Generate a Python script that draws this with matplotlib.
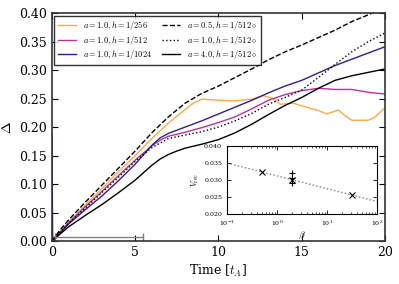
import matplotlib
matplotlib.use('Agg')
import matplotlib.pyplot as plt
import numpy as np

plt.rcParams['font.family'] = ['DejaVu Serif']
plt.rcParams['mathtext.fontset'] = 'cm'
plt.rcParams['xtick.direction'] = 'in'
plt.rcParams['ytick.direction'] = 'in'
plt.rcParams['xtick.top'] = True
plt.rcParams['ytick.right'] = True

# Main curves: Delta vs time
t_dash = [0, 0.5, 1, 2, 3, 4, 5, 6, 7, 8, 9, 10, 11, 12, 13, 14, 15, 16, 17, 18, 19, 20]
d_dash = [0, 0.02, 0.037, 0.068, 0.098, 0.128, 0.158, 0.19, 0.218, 0.242, 0.259, 0.272, 0.287,
          0.302, 0.318, 0.332, 0.344, 0.357, 0.37, 0.385, 0.397, 0.41]

t_256 = [0, 1, 2, 3, 4, 5, 6, 7, 7.7, 8.5, 9, 9.5, 10, 11, 12, 12.7, 13.3, 13.7, 14.5, 15,
         16, 16.5, 17.2, 17.6, 18, 19, 19.4, 20]
d_256 = [0, 0.033, 0.063, 0.092, 0.122, 0.15, 0.18, 0.207, 0.224, 0.242, 0.249, 0.248, 0.247,
         0.246, 0.249, 0.255, 0.25, 0.24, 0.242, 0.237, 0.229, 0.223, 0.23, 0.22, 0.212, 0.212,
         0.218, 0.234]

t_512 = [0, 1, 2, 3, 4, 5, 6, 6.5, 7, 8, 9, 10, 11, 12, 13, 14, 15, 16, 17, 18, 19, 20]
d_512 = [0, 0.032, 0.06, 0.087, 0.115, 0.142, 0.167, 0.177, 0.184, 0.191, 0.199, 0.208, 0.218,
         0.232, 0.247, 0.257, 0.264, 0.268, 0.266, 0.266, 0.261, 0.258]

t_1024 = [0, 0.05, 1, 2, 3, 4, 5, 6, 6.5, 7, 8, 9, 10, 11, 12, 13, 14, 15, 16, 17, 18, 19, 20]
d_1024 = [0.19, 0, 0.03, 0.055, 0.079, 0.106, 0.135, 0.168, 0.181, 0.189, 0.2, 0.211, 0.223,
          0.235, 0.247, 0.26, 0.272, 0.282, 0.295, 0.308, 0.319, 0.33, 0.341]

t_dot = [0, 1, 2, 3, 4, 5, 6, 7, 8, 9, 10, 11, 12, 13, 14, 15, 16, 17, 18, 19, 20]
d_dot = [0, 0.031, 0.058, 0.085, 0.112, 0.14, 0.164, 0.18, 0.186, 0.192, 0.2, 0.211, 0.224,
         0.24, 0.252, 0.265, 0.287, 0.31, 0.332, 0.35, 0.365]

t_a4 = [0, 1, 2, 3, 4, 5, 6, 6.5, 7, 7.5, 8, 9, 10, 11, 12, 13, 14, 15, 16, 17, 18, 19, 20]
d_a4 = [0, 0.025, 0.045, 0.064, 0.085, 0.107, 0.133, 0.144, 0.152, 0.158, 0.163, 0.17, 0.178,
        0.19, 0.205, 0.222, 0.238, 0.252, 0.268, 0.282, 0.29, 0.296, 0.302]

# Inset: reconnection rate vs beta
beta_x = [0.5, 2.0, 32.0]
vrec_x = [0.0325, 0.0301, 0.0255]
beta_p = [2.0, 2.0, 2.0]
vrec_p = [0.032, 0.0305, 0.029]
beta_fit = [0.1, 100.0]
vrec_fit = [0.035, 0.0237]

fig = plt.figure(figsize=(3.99, 2.84), dpi=100)
ax = fig.add_axes([0.130, 0.151, 0.835, 0.803])

ax.plot(t_256, d_256, '-', c='#fdab48', lw=1.0, label=r'$a = 1.0, h = 1/256$')
ax.plot(t_512, d_512, '-', c='#b5359b', lw=1.0, label=r'$a = 1.0, h = 1/512$')
ax.plot(t_1024, d_1024, '-', c='#2e1c9c', lw=1.0, label=r'$a = 1.0, h = 1/1024$')
ax.plot(t_dash, d_dash, '--', c='black', lw=1.0, label=r'$a = 0.5, h = 1/512\diamond$')
ax.plot(t_dot, d_dot, ':', c='black', lw=1.0, label=r'$a = 1.0, h = 1/512\diamond$')
ax.plot(t_a4, d_a4, '-', c='black', lw=1.0, label=r'$a = 4.0, h = 1/512\diamond$')

ax.errorbar([2.82], [0.007], xerr=[2.65], fmt='none', ecolor='gray', elinewidth=1.0,
            capsize=3)

ax.set_xlim(0, 20)
ax.set_ylim(0, 0.40)
ax.set_xticks([0, 5, 10, 15, 20])
ax.set_yticks(np.arange(0, 0.401, 0.05))
ax.set_yticklabels(['%.2f' % v for v in np.arange(0, 0.401, 0.05)])
ax.tick_params(labelsize=9, width=0.8, length=4)
for s in ax.spines.values():
    s.set_linewidth(1.2)
    s.set_color('#333333')
ax.set_xlabel(r'Time [$t_A$]', fontsize=9, labelpad=3)
ax.set_ylabel(r'$\Delta$', fontsize=10)

leg = ax.legend(loc='upper left', ncol=2, fontsize=6, frameon=True, fancybox=False,
                borderaxespad=0.3, borderpad=0.4, handlelength=2.2, columnspacing=1.2,
                labelspacing=0.2)
leg.get_frame().set_edgecolor('black')
leg.get_frame().set_linewidth(1.0)

ins = fig.add_axes([0.569, 0.246, 0.376, 0.240])
ins.plot(beta_fit, vrec_fit, ':', c='gray', lw=1.0)
ins.plot(beta_x, vrec_x, 'x', c='black', ms=5, mew=0.8)
ins.plot(beta_p, vrec_p, '+', c='black', ms=5, mew=0.8)
ins.set_xscale('log')
ins.set_xlim(0.1, 100)
ins.set_ylim(0.020, 0.040)
ins.set_yticks([0.020, 0.025, 0.030, 0.035, 0.040])
ins.set_yticklabels(['0.020', '0.025', '0.030', '0.035', '0.040'])
ins.tick_params(labelsize=4.5, length=3, width=0.6)
ins.tick_params(which='minor', length=1.5, width=0.5)
ins.set_xlabel(r'$\beta$', fontsize=7, labelpad=1)
ins.set_ylabel(r'$V_{\rm rec}$', fontsize=6, labelpad=2)

fig.savefig('out.png', dpi=100)
